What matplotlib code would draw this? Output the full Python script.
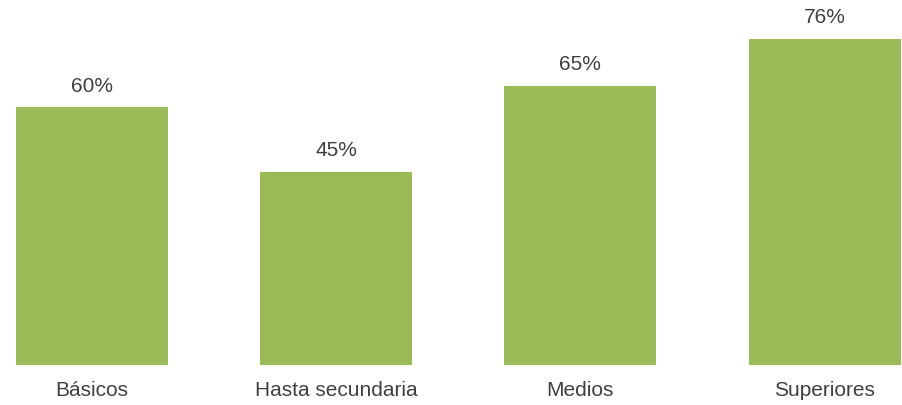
import matplotlib
matplotlib.use("Agg")
import matplotlib.pyplot as plt

categories = ["Básicos", "Hasta secundaria", "Medios", "Superiores"]
values = [60, 45, 65, 76]
value_labels = ["60%", "45%", "65%", "76%"]

BAR_COLOR = "#9BBB59"
TEXT_COLOR = "#404040"

plt.rcParams["font.family"] = ["Liberation Sans", "DejaVu Sans"]

fig = plt.figure(figsize=(9.03, 4.06), dpi=100)
ax = fig.add_axes([0, 40.5 / 406, 1, 365.5 / 406])

x = list(range(len(categories)))
bars = ax.bar(x, values, width=0.622, color=BAR_COLOR)

for xi, v, lab in zip(x, values, value_labels):
    ax.annotate(lab, (xi, v), xytext=(0, 12), textcoords="offset points",
                ha="center", va="baseline", fontsize=15, color=TEXT_COLOR)

ax.set_xlim(-92 / 244.2, (903 - 92) / 244.2)
ax.set_ylim(0, 365.5 / 4.285)
ax.set_xticks(x)
ax.set_xticklabels(categories, fontsize=15, color=TEXT_COLOR)
ax.tick_params(axis="x", length=0, pad=11.5)
ax.set_yticks([])
for s in ax.spines.values():
    s.set_visible(False)

fig.savefig("out.png", dpi=100)
